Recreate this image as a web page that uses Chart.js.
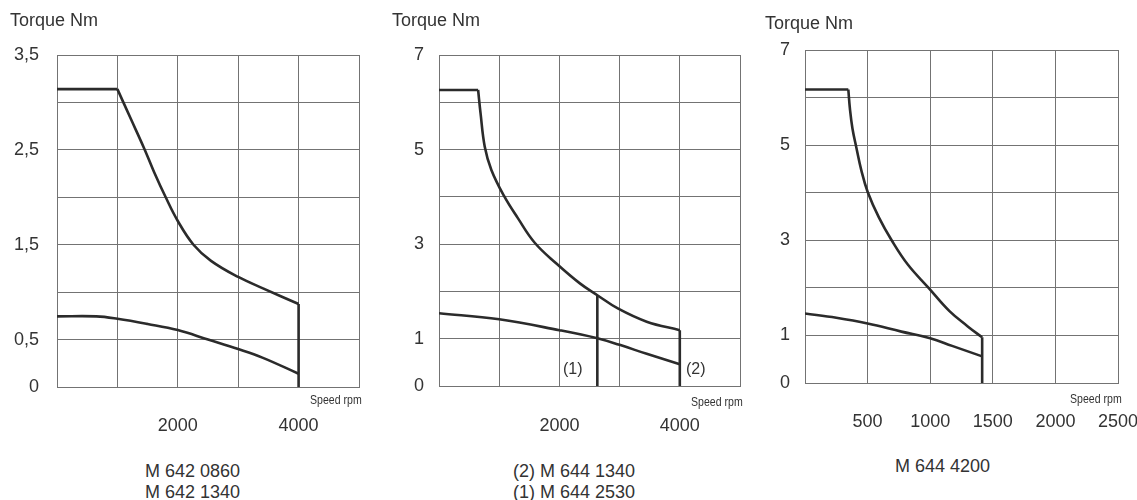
<!DOCTYPE html>
<html>
<head>
<meta charset="utf-8">
<script src="https://cdn.jsdelivr.net/npm/chart.js@4.4.1/dist/chart.umd.min.js"></script>
<style>
  body { margin: 0; background: #fff; }
  #page { position: relative; width: 1137px; height: 500px; overflow: hidden; font-family: "Liberation Sans", Arial, sans-serif; color: #333; }
  canvas { position: absolute; top: 0; }
  .lbl { position: absolute; font-size: 18px; line-height: 18px; white-space: nowrap; }
  .tag { position: absolute; font-size: 16px; line-height: 16px; white-space: nowrap; }
  .speed { position: absolute; font-size: 12px; line-height: 12px; white-space: nowrap; transform: scaleX(0.88); transform-origin: right center; }
</style>
</head>
<body>
<div id="page">
  <canvas id="c1" width="380" height="445" style="left:0px"></canvas>
  <canvas id="c2" width="380" height="445" style="left:380px"></canvas>
  <canvas id="c3" width="377" height="445" style="left:760px"></canvas>

  <div class="lbl" style="left:10px; top:11px">Torque Nm</div>
  <div class="lbl" style="left:392px; top:11px">Torque Nm</div>
  <div class="lbl" style="left:765px; top:14px">Torque Nm</div>

  <div class="speed" style="right:775px; top:394px">Speed rpm</div>
  <div class="speed" style="right:394px; top:396px">Speed rpm</div>
  <div class="speed" style="right:15px; top:393px">Speed rpm</div>

  <div class="tag" style="left:563px; top:361px">(1)</div>
  <div class="tag" style="left:686px; top:361px">(2)</div>

  <div class="lbl" style="left:145px; top:462px">M 642 0860</div>
  <div class="lbl" style="left:145px; top:483px">M 642 1340</div>
  <div class="lbl" style="left:513px; top:462px">(2) M 644 1340</div>
  <div class="lbl" style="left:513px; top:483px">(1) M 644 2530</div>
  <div class="lbl" style="left:895px; top:457px">M 644 4200</div>
</div>

<script>
// Chart 1 - M 642 0860 / M 642 1340
// upper curve: flat part, falling part, then the drop to 0 at max speed
const c1UpperRpm = [0, 1000, 1220, 1440, 1605, 1800, 2000, 2260, 2550, 3000, 3410, 4000, 4000];
const c1UpperTorque = [3.14, 3.14, 2.83, 2.52, 2.27, 2.0, 1.75, 1.5, 1.33, 1.16, 1.04, 0.875, 0];
const c1LowerRpm = [0, 650, 1000, 1500, 2000, 2500, 3000, 3400, 4000];
const c1LowerTorque = [0.745, 0.745, 0.72, 0.665, 0.6, 0.5, 0.4, 0.31, 0.14];
const c1YTicks = [0, 0.5, 1.5, 2.5, 3.5];
const c1YLabels = ['0', '0,5', '1,5', '2,5', '3,5'];
const c1XTicks = [2000, 4000];
const c1XLabels = ['2000', '4000'];

// Chart 2 - (2) M 644 1340 / (1) M 644 2530
const c2UpperRpm = [0, 650, 690, 760, 870, 1080, 1310, 1590, 1950, 2340, 2630, 2970, 3450, 4000, 4000];
const c2UpperTorque = [6.26, 6.26, 5.77, 5.06, 4.57, 4.02, 3.55, 3.03, 2.59, 2.17, 1.92, 1.64, 1.36, 1.18, 0];
const c2LowerRpm = [0, 1000, 2000, 2630, 3000, 3450, 4000];
const c2LowerTorque = [1.54, 1.41, 1.18, 1.01, 0.87, 0.68, 0.46];
const c2CutRpm = [2630, 2630];
const c2CutTorque = [1.92, 0];
const c2YTicks = [0, 1, 3, 5, 7];
const c2YLabels = ['0', '1', '3', '5', '7'];
const c2XTicks = [2000, 4000];
const c2XLabels = ['2000', '4000'];

// Chart 3 - M 644 4200
const c3UpperRpm = [0, 346, 359, 379, 410, 450, 500, 590, 692, 821, 987, 1154, 1300, 1415, 1415];
const c3UpperTorque = [6.17, 6.17, 5.76, 5.35, 4.95, 4.47, 4.02, 3.48, 3.0, 2.49, 2.0, 1.51, 1.19, 0.96, 0];
const c3LowerRpm = [0, 250, 500, 770, 1000, 1175, 1415];
const c3LowerTorque = [1.46, 1.37, 1.25, 1.08, 0.94, 0.78, 0.56];
const c3YTicks = [0, 1, 3, 5, 7];
const c3YLabels = ['0', '1', '3', '5', '7'];
const c3XTicks = [500, 1000, 1500, 2000, 2500];
const c3XLabels = ['500', '1000', '1500', '2000', '2500'];

const GRID = '#737373';
const INK = '#2b2b2b';
const TEXT = '#333';

function pts(xs, ys) {
    return xs.map((x, i) => ({ x: x, y: ys[i] }));
}

function curve(xs, ys, tension) {
    return {
        data: pts(xs, ys),
        borderColor: INK,
        borderWidth: 2.6,
        pointRadius: 0,
        tension: tension || 0,
        fill: false
    };
}

// flat top, smooth falling part, vertical drop - so the corners stay sharp
function upper(xs, ys) {
    const n = xs.length;
    return [
        curve(xs.slice(0, 2), ys.slice(0, 2)),
        curve(xs.slice(1, n - 1), ys.slice(1, n - 1), 0.4),
        curve(xs.slice(n - 2), ys.slice(n - 2))
    ];
}

function labelFor(vals, labels) {
    return v => {
        const i = vals.findIndex(t => Math.abs(t - v) < 1e-6);
        return i >= 0 ? labels[i] : '';
    };
}

function makeChart(id, c) {
    return new Chart(document.getElementById(id), {
        type: 'line',
        data: { datasets: c.datasets },
        options: {
            responsive: false,
            animation: false,
            layout: { padding: { left: 0, top: c.top, right: c.right, bottom: 0 } },
            plugins: { legend: { display: false }, tooltip: { enabled: false } },
            scales: {
                x: {
                    type: 'linear',
                    min: 0, max: c.xMax,
                    grid: { color: GRID, lineWidth: 1, drawTicks: false },
                    border: { color: GRID, width: 1 },
                    ticks: {
                        stepSize: c.xStep,
                        padding: c.xPad,
                        maxRotation: 0,
                        autoSkip: false,
                        color: TEXT,
                        font: { family: 'Liberation Sans', size: 18 },
                        callback: labelFor(c.xTicks, c.xLabels)
                    },
                    afterFit: s => { s.height = 445 - c.bottom; s.paddingLeft = 0; s.paddingRight = 0; }
                },
                y: {
                    min: 0, max: c.yMax,
                    grid: { color: GRID, lineWidth: 1, drawTicks: false },
                    border: { color: GRID, width: 1 },
                    ticks: {
                        stepSize: c.yStep,
                        padding: c.yPad,
                        autoSkip: false,
                        color: TEXT,
                        font: { family: 'Liberation Sans', size: 18 },
                        callback: labelFor(c.yTicks, c.yLabels)
                    },
                    afterFit: s => { s.width = c.yWidth; s.paddingTop = 0; s.paddingBottom = 0; }
                }
            }
        }
    });
}

makeChart('c1', {
    top: 55, bottom: 387, right: 21, yWidth: 57, xPad: 28, yPad: 18,
    xMax: 5000, xStep: 1000, yMax: 3.5, yStep: 0.5,
    xTicks: c1XTicks, xLabels: c1XLabels, yTicks: c1YTicks, yLabels: c1YLabels,
    datasets: [...upper(c1UpperRpm, c1UpperTorque), curve(c1LowerRpm, c1LowerTorque, 0.4)]
});

makeChart('c2', {
    top: 55, bottom: 386, right: 20, yWidth: 59, xPad: 29, yPad: 15,
    xMax: 5000, xStep: 1000, yMax: 7, yStep: 1,
    xTicks: c2XTicks, xLabels: c2XLabels, yTicks: c2YTicks, yLabels: c2YLabels,
    datasets: [...upper(c2UpperRpm, c2UpperTorque), curve(c2LowerRpm, c2LowerTorque, 0.4), curve(c2CutRpm, c2CutTorque)]
});

makeChart('c3', {
    top: 50, bottom: 383, right: 19, yWidth: 45, xPad: 28, yPad: 15,
    xMax: 2500, xStep: 500, yMax: 7, yStep: 1,
    xTicks: c3XTicks, xLabels: c3XLabels, yTicks: c3YTicks, yLabels: c3YLabels,
    datasets: [...upper(c3UpperRpm, c3UpperTorque), curve(c3LowerRpm, c3LowerTorque, 0.4)]
});
</script>
</body>
</html>
